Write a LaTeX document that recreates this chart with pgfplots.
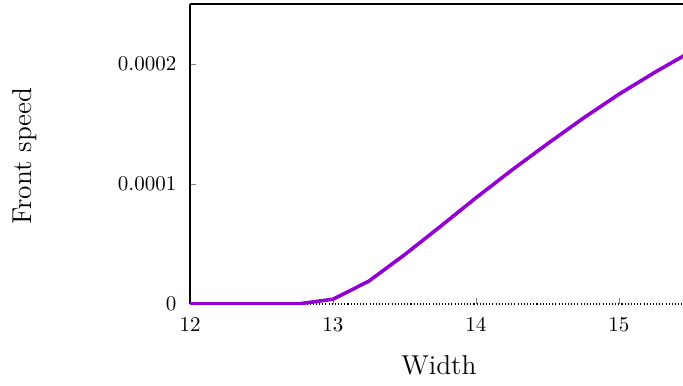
\documentclass[border=0pt]{standalone}
\usepackage{pgfplots}
\pgfplotsset{compat=1.18}
\definecolor{frontviolet}{HTML}{9400D3}

\begin{document}
\begin{tikzpicture}
\begin{axis}[
  scale only axis,
  width=234.8pt, height=142.9pt,
  xmin=12, xmax=15.448,
  ymin=0, ymax=0.00025,
  axis lines=left,
  axis line style={-, line width=0.5pt},
  x axis line style={densely dotted, line width=0.7pt},
  tick align=inside,
  major tick length=3pt,
  xtick={12,13,14,15},
  ytick={0,0.0001,0.0002},
  yticklabels={0,0.0001,0.0002},
  scaled y ticks=false,
  xticklabel style={yshift=-3.3pt},
  yticklabel style={xshift=-3pt},
  clip mode=individual,
  xlabel={Width},
  ylabel={Front speed},
  every axis x label/.style={at={(rel axis cs:0.505,0)}, yshift=-29pt, anchor=center, font=\fontsize{13}{15}\selectfont},
  every axis y label/.style={at={(rel axis cs:0,0.493)}, xshift=-78.8pt, rotate=90, anchor=center, font=\fontsize{13}{15}\selectfont},
]
\addplot[color=frontviolet, line width=1.7pt] coordinates {
  (12.00,0) (12.25,0) (12.50,0) (12.75,0)
  (13.00,0.0000040) (13.25,0.0000190) (13.50,0.0000410)
  (13.75,0.0000645) (14.00,0.0000885) (14.25,0.0001115)
  (14.50,0.0001335) (14.75,0.0001548) (15.00,0.0001748)
  (15.25,0.0001930) (15.50,0.0002100)
};
\draw[line width=0.6pt] (rel axis cs:0,1) -- (rel axis cs:1,1);
\coordinate (ll) at (rel axis cs:0,0);
\coordinate (ur) at (rel axis cs:1,1);
\end{axis}
\pgfresetboundingbox
\path[use as bounding box] ([xshift=-90.5pt,yshift=-39pt]ll) rectangle ([yshift=1.9pt]ur);
\end{tikzpicture}
\end{document}
